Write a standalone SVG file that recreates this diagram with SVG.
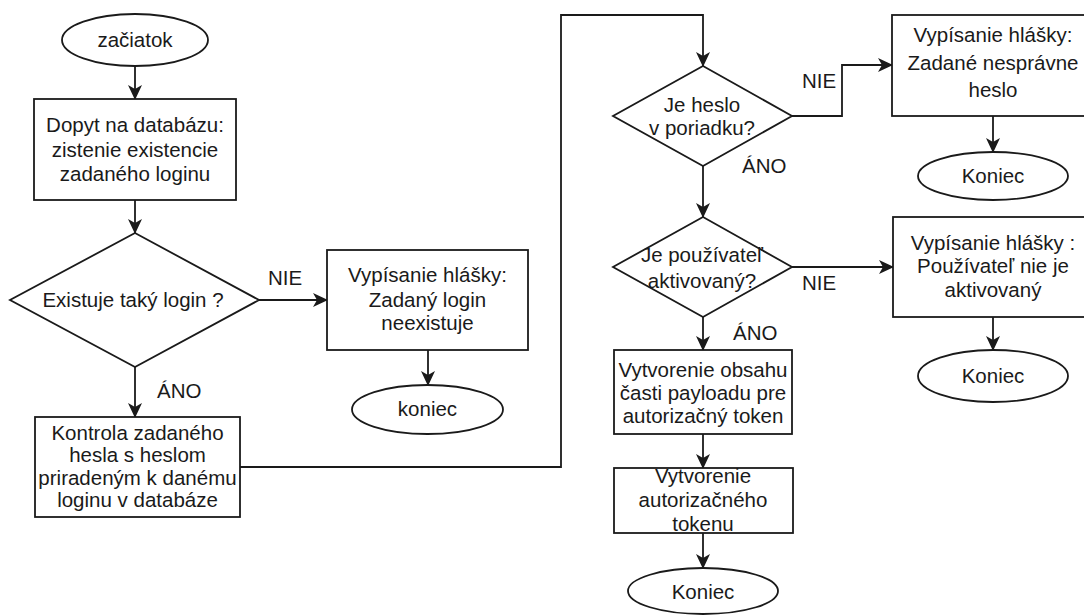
<svg xmlns="http://www.w3.org/2000/svg" width="1084" height="615" viewBox="0 0 1084 615">
  <style>
    .shape { fill: #ffffff; stroke: #1a1a1a; stroke-width: 1.8; }
    .edge { fill: none; stroke: #1a1a1a; stroke-width: 1.8; }
    text { font-family: "Liberation Sans", Arial, sans-serif; font-size: 20.5px; fill: #1a1a1a; text-anchor: middle; }
    .lbl { text-anchor: start; }
  </style>
  <defs>
    <marker id="arrow" markerUnits="userSpaceOnUse" viewBox="0 0 15 14" markerWidth="15" markerHeight="14" refX="14" refY="7" orient="auto">
      <path d="M0,0 L15,7 L0,14 L4,7 Z" fill="#1a1a1a"/>
    </marker>
  </defs>
  <rect width="1084" height="615" fill="#ffffff"/>

  <!-- connectors -->
  <g id="connectors">
    <path class="edge" d="M135,66 V99" marker-end="url(#arrow)"/>
    <path class="edge" d="M135,200 V233" marker-end="url(#arrow)"/>
    <path class="edge" d="M135,367 V417" marker-end="url(#arrow)"/>
    <path class="edge" d="M259,300 H327" marker-end="url(#arrow)"/>
    <path class="edge" d="M428,350 V385" marker-end="url(#arrow)"/>
    <path class="edge" d="M240,467 H561 V15 H703 V66" marker-end="url(#arrow)"/>
    <path class="edge" d="M791,116 H842 V65 H892" marker-end="url(#arrow)"/>
    <path class="edge" d="M993,116 V152" marker-end="url(#arrow)"/>
    <path class="edge" d="M703,166 V217" marker-end="url(#arrow)"/>
    <path class="edge" d="M791,267 H893" marker-end="url(#arrow)"/>
    <path class="edge" d="M993,317 V350" marker-end="url(#arrow)"/>
    <path class="edge" d="M703,317 V350" marker-end="url(#arrow)"/>
    <path class="edge" d="M703,434 V468" marker-end="url(#arrow)"/>
    <path class="edge" d="M703,533 V568" marker-end="url(#arrow)"/>
    <text class="lbl" x="268" y="285">NIE</text>
    <text class="lbl" x="157" y="398">ÁNO</text>
    <text class="lbl" x="802" y="88">NIE</text>
    <text class="lbl" x="742" y="173">ÁNO</text>
    <text class="lbl" x="802" y="290">NIE</text>
    <text class="lbl" x="733" y="340">ÁNO</text>
  </g>

  <g id="start">
    <ellipse class="shape" cx="135" cy="40" rx="73" ry="26"/>
    <text x="135" y="47">začiatok</text>
  </g>

  <g id="query">
    <rect class="shape" x="34" y="99" width="202" height="101"/>
    <text x="135" y="132">Dopyt na databázu:</text>
    <text x="135" y="157">zistenie existencie</text>
    <text x="135" y="181">zadaného loginu</text>
  </g>

  <g id="login-exists">
    <polygon class="shape" points="135,233 259,300 135,367 10,300"/>
    <text x="133" y="307">Existuje taký login ?</text>
  </g>

  <g id="login-missing">
    <rect class="shape" x="327" y="250" width="201" height="100"/>
    <text x="427.5" y="282">Vypísanie hlášky:</text>
    <text x="427.5" y="307">Zadaný login</text>
    <text x="427.5" y="330">neexistuje</text>
  </g>

  <g id="end-1">
    <ellipse class="shape" cx="427.5" cy="409.5" rx="75.5" ry="24.5"/>
    <text x="427.5" y="416">koniec</text>
  </g>

  <g id="check-password">
    <rect class="shape" x="35" y="417" width="205" height="100"/>
    <text x="137.5" y="440">Kontrola zadaného</text>
    <text x="137.5" y="462">hesla s heslom</text>
    <text x="137.5" y="485">priradeným k danému</text>
    <text x="137.5" y="507">loginu v databáze</text>
  </g>

  <g id="password-ok">
    <polygon class="shape" points="703,66 792,116 703,166 613,116"/>
    <text x="702" y="112">Je heslo</text>
    <text x="702" y="135">v poriadku?</text>
  </g>

  <g id="wrong-password">
    <rect class="shape" x="892" y="15" width="202" height="101"/>
    <text x="993" y="42">Vypísanie hlášky:</text>
    <text x="993" y="70">Zadané nesprávne</text>
    <text x="993" y="97">heslo</text>
  </g>

  <g id="end-2">
    <ellipse class="shape" cx="993" cy="176" rx="75" ry="24"/>
    <text x="993" y="183">Koniec</text>
  </g>

  <g id="user-active">
    <polygon class="shape" points="703,217 792,267 703,317 613,267"/>
    <text x="702" y="262">Je používateľ</text>
    <text x="702" y="288">aktivovaný?</text>
  </g>

  <g id="user-inactive">
    <rect class="shape" x="893" y="217" width="202" height="100"/>
    <text x="993" y="250">Vypísanie hlášky :</text>
    <text x="993" y="273">Používateľ nie je</text>
    <text x="993" y="297">aktivovaný</text>
  </g>

  <g id="end-3">
    <ellipse class="shape" cx="993" cy="376" rx="75" ry="26"/>
    <text x="993" y="383">Koniec</text>
  </g>

  <g id="payload">
    <rect class="shape" x="614" y="350" width="178" height="84"/>
    <text x="703" y="377">Vytvorenie obsahu</text>
    <text x="703" y="400">časti payloadu pre</text>
    <text x="703" y="423">autorizačný token</text>
  </g>

  <g id="token">
    <rect class="shape" x="614" y="468" width="179" height="65"/>
    <text x="703" y="483">Vytvorenie</text>
    <text x="703" y="507">autorizačného</text>
    <text x="703" y="531">tokenu</text>
  </g>

  <g id="end-4">
    <ellipse class="shape" cx="703" cy="591" rx="75" ry="23"/>
    <text x="703" y="599">Koniec</text>
  </g>
</svg>
